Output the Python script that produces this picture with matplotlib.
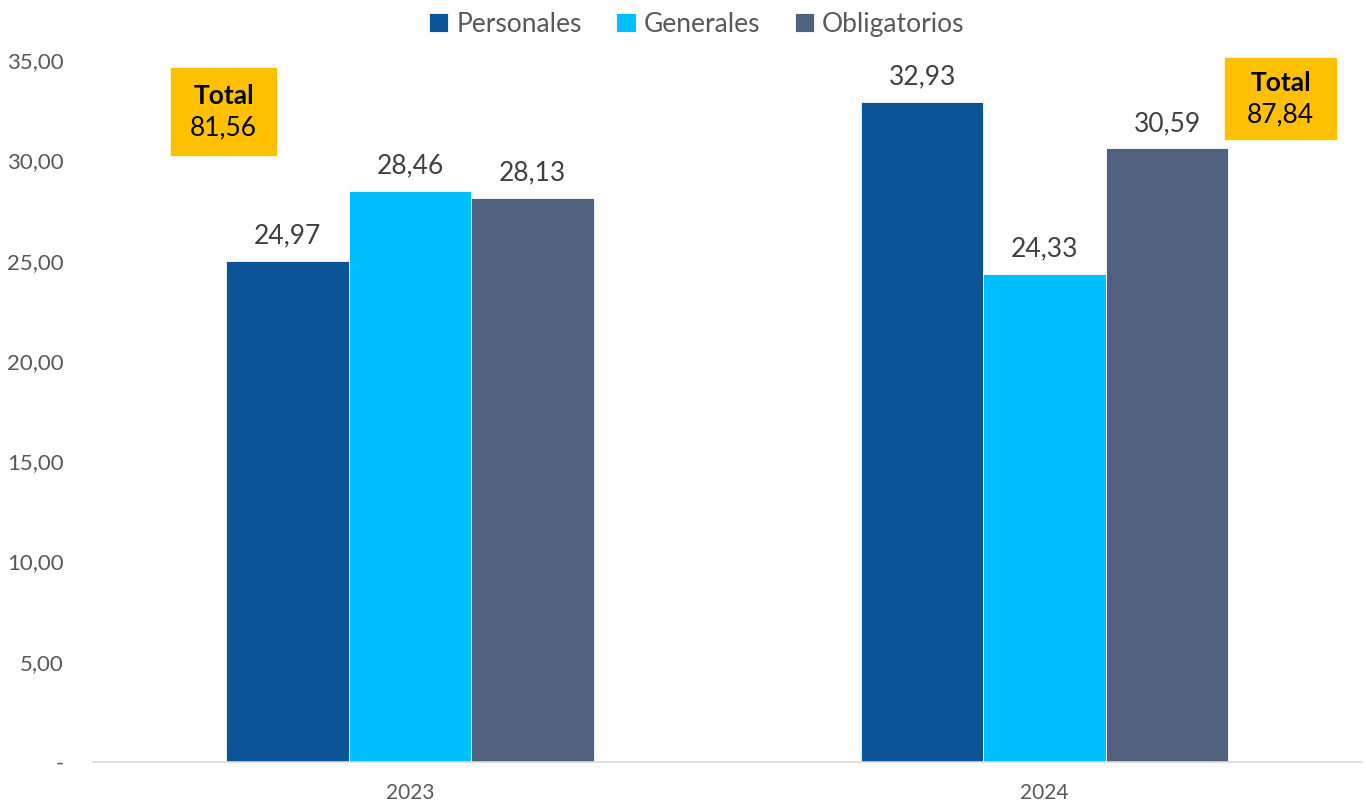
import matplotlib
matplotlib.use("Agg")
import matplotlib.pyplot as plt
from matplotlib.patches import Rectangle
from matplotlib.ticker import FuncFormatter
import numpy as np

plt.rcParams['font.family'] = ['Lato', 'DejaVu Sans']

years = ['2023', '2024']
series = ['Personales', 'Generales', 'Obligatorios']
personales = [24.97, 32.93]
generales = [28.46, 24.33]
obligatorios = [28.13, 30.59]
totals = [81.56, 87.84]
yticks = [0, 5, 10, 15, 20, 25, 30, 35]

colors = ['#0B5495', '#00BFFF', '#4F617D']


def fmt(v):
    return '{:.2f}'.format(v).replace('.', ',')


fig = plt.figure(figsize=(13.66, 8.05), dpi=100)
ax = fig.add_axes([0.068, 0.0534, 0.929, 0.872])

x = np.arange(len(years))
w = 0.193
for i, (name, vals) in enumerate(zip(series, [personales, generales, obligatorios])):
    bars = ax.bar(x + (i - 1) * w, vals, width=w, color=colors[i], label=name,
                  edgecolor='white', linewidth=0.6)
    for b, v in zip(bars, vals):
        ax.annotate(fmt(v), (b.get_x() + b.get_width() / 2, v),
                    xytext=(0, 9), textcoords='offset points',
                    ha='center', va='bottom', fontsize=19, color='#404040')

ax.set_xlim(-0.5, 1.5)
ax.set_ylim(0, 35)
ax.set_xticks(x)
ax.set_xticklabels(years)
ax.set_yticks(yticks)
ax.yaxis.set_major_formatter(FuncFormatter(lambda v, p: '-' if v == 0 else fmt(v)))
ax.tick_params(axis='y', length=0, pad=21, labelsize=16, labelcolor='#595959')
ax.tick_params(axis='x', length=0, pad=15, labelsize=15, labelcolor='#595959')
for s in ['top', 'right', 'left']:
    ax.spines[s].set_visible(False)
ax.spines['bottom'].set_color('#D9D9D9')
ax.spines['bottom'].set_linewidth(1.2)

leg = fig.legend(loc='upper center', bbox_to_anchor=(0.51, 1.015), ncol=3, frameon=False,
                 fontsize=19, handlelength=0.75, handleheight=0.75, columnspacing=1.3,
                 handletextpad=0.3)
for t in leg.get_texts():
    t.set_color('#595959')

# total boxes (pixel positions)
boxes = [(171, 68, 276, 155), (1225, 58, 1336, 139)]
W, H = 1366, 805
for (x0, y0, x1, y1), tot in zip(boxes, totals):
    fig.patches.append(Rectangle((x0 / W, 1 - y1 / H), (x1 - x0) / W, (y1 - y0) / H,
                                 transform=fig.transFigure, color='#FFC000', zorder=0))
    cx = (x0 + x1) / 2 / W
    cy = 1 - (y0 + y1) / 2 / H
    fig.text(cx, cy + 0.019, 'Total', ha='center', va='center', fontsize=19,
             fontweight='bold', color='black')
    fig.text(cx, cy - 0.02, fmt(tot), ha='center', va='center', fontsize=19,
             color='black')

fig.savefig('out.png', dpi=100)
